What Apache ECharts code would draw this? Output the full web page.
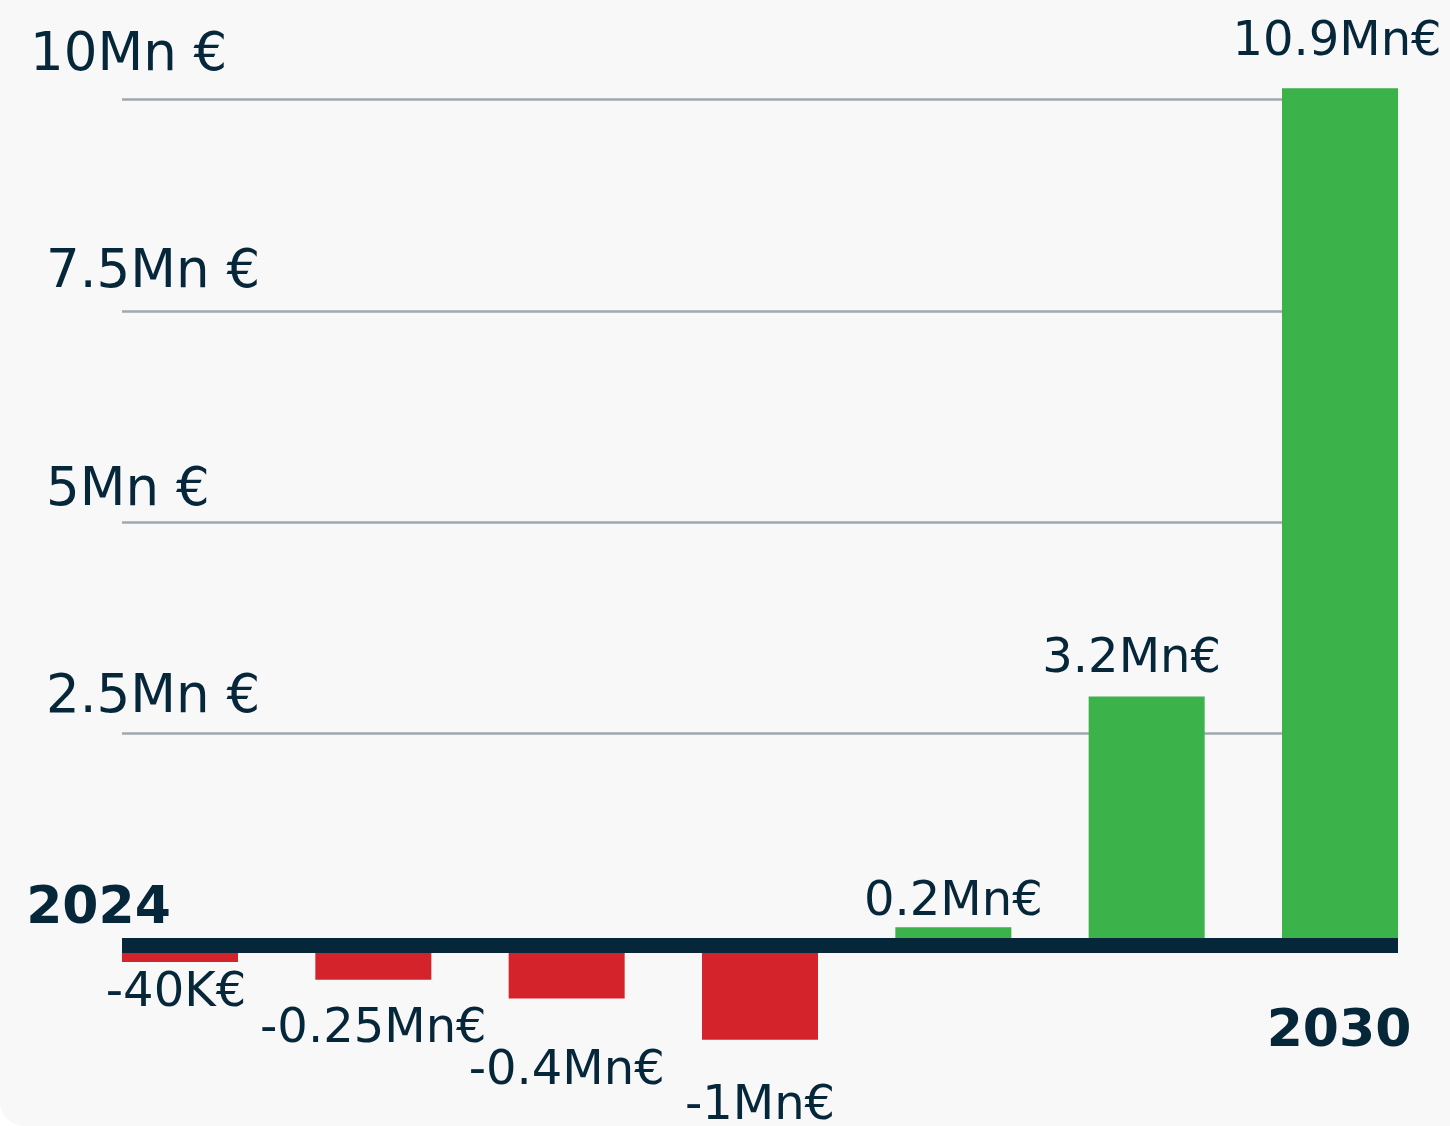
<!DOCTYPE html>
<html><head><meta charset="utf-8">
<script src="https://cdn.jsdelivr.net/npm/echarts@6/dist/echarts.min.js"></script>
<style>html,body{margin:0;padding:0;background:#ffffff;}#c{width:1450px;height:1126px;background:#f8f8f8;border-bottom-left-radius:24px;overflow:hidden;}</style>
</head><body><div id="c"></div>
<script>
// ---- data ----
const years = ['2024', '2025', '2026', '2027', '2028', '2029', '2030'];
const values = [-0.20, -0.41, -0.63, -1.12, 0.21, 2.94, 10.13];
const valueLabels = ['-40K€', '-0.25Mn€', '-0.4Mn€', '-1Mn€', '0.2Mn€', '3.2Mn€', '10.9Mn€'];
const tickValues = [2.5, 5, 7.5, 10];
const tickLabels = ['2.5Mn €', '5Mn €', '7.5Mn €', '10Mn €'];

// ---- layout / style ----
const NAVY = '#06263a';
const GREEN = '#3bb24a';
const RED = '#d4232b';
const FONT = 'DejaVu Sans';
const labelOffsets = [[-4, 7], [0, 26], [0, 49], [0, 43], [0, -1], [-15, -13], [-3, -22]];
const tickRich = {
  t0: {padding: [0, 0, 17, 23]},
  t1: {padding: [0, 0, 8, 23]},
  t2: {padding: [0, 0, 22, 23]},
  t3: {padding: [0, 0, 33, 7]}
};
Object.values(tickRich).forEach(r => { r.fontSize = 53; r.lineHeight = 53; r.color = NAVY; r.fontFamily = FONT; });

const chart = echarts.init(document.getElementById('c'), null, {renderer: 'canvas'});
const barData = values.map((v, i) => ({
  value: [i, v],
  itemStyle: {color: v >= 0 ? GREEN : RED},
  label: {
    show: true,
    position: v >= 0 ? 'top' : 'bottom',
    distance: 0,
    offset: labelOffsets[i],
    formatter: valueLabels[i],
    fontSize: 48,
    fontFamily: FONT,
    color: NAVY
  }
}));

// first and last year, anchored on the zero line at their category
const last = years.length - 1;
const yearEnds = [
  {value: [0, 0], label: {formatter: years[0], position: 'top', offset: [-81.5, -9]}},
  {value: [last, 0], label: {formatter: years[last], position: 'bottom', offset: [-1, 61]}}
];

chart.setOption({
  backgroundColor: 'transparent',
  animation: false,
  grid: {left: 122, right: 52, top: 57, bottom: 54, containLabel: false, outerBoundsMode: 'none'},
  xAxis: {
    type: 'value', min: -0.3, max: 6.3, z: 10,
    splitLine: {show: false},
    axisTick: {show: false},
    axisLabel: {show: false},
    axisLine: {show: true, onZero: true, lineStyle: {color: NAVY, width: 15, cap: 'butt'}}
  },
  yAxis: {
    type: 'value', min: -1.5, max: 10.5,
    splitLine: {show: false},
    axisLine: {show: false},
    axisTick: {show: false},
    axisLabel: {
      customValues: tickValues,
      align: 'left',
      verticalAlign: 'bottom',
      margin: 99,
      formatter: v => { const k = tickValues.indexOf(v); return '{t' + k + '|' + tickLabels[k] + '}'; },
      rich: tickRich
    }
  },
  series: [{
    type: 'bar',
    barWidth: 116,
    data: barData,
    markLine: {
      silent: true, z: 1, symbol: 'none',
      label: {show: false},
      lineStyle: {color: '#9ea9b1', width: 2.5, type: 'solid'},
      data: tickValues.map(v => ({yAxis: v}))
    }
  }, {
    type: 'scatter',
    silent: true,
    symbolSize: 1,
    z: 12,
    itemStyle: {color: 'rgba(0,0,0,0)', opacity: 1},
    label: {show: true, distance: 0, fontSize: 52, fontWeight: 'bold', fontFamily: FONT, color: NAVY, opacity: 1},
    data: yearEnds
  }]
});
</script></body></html>
